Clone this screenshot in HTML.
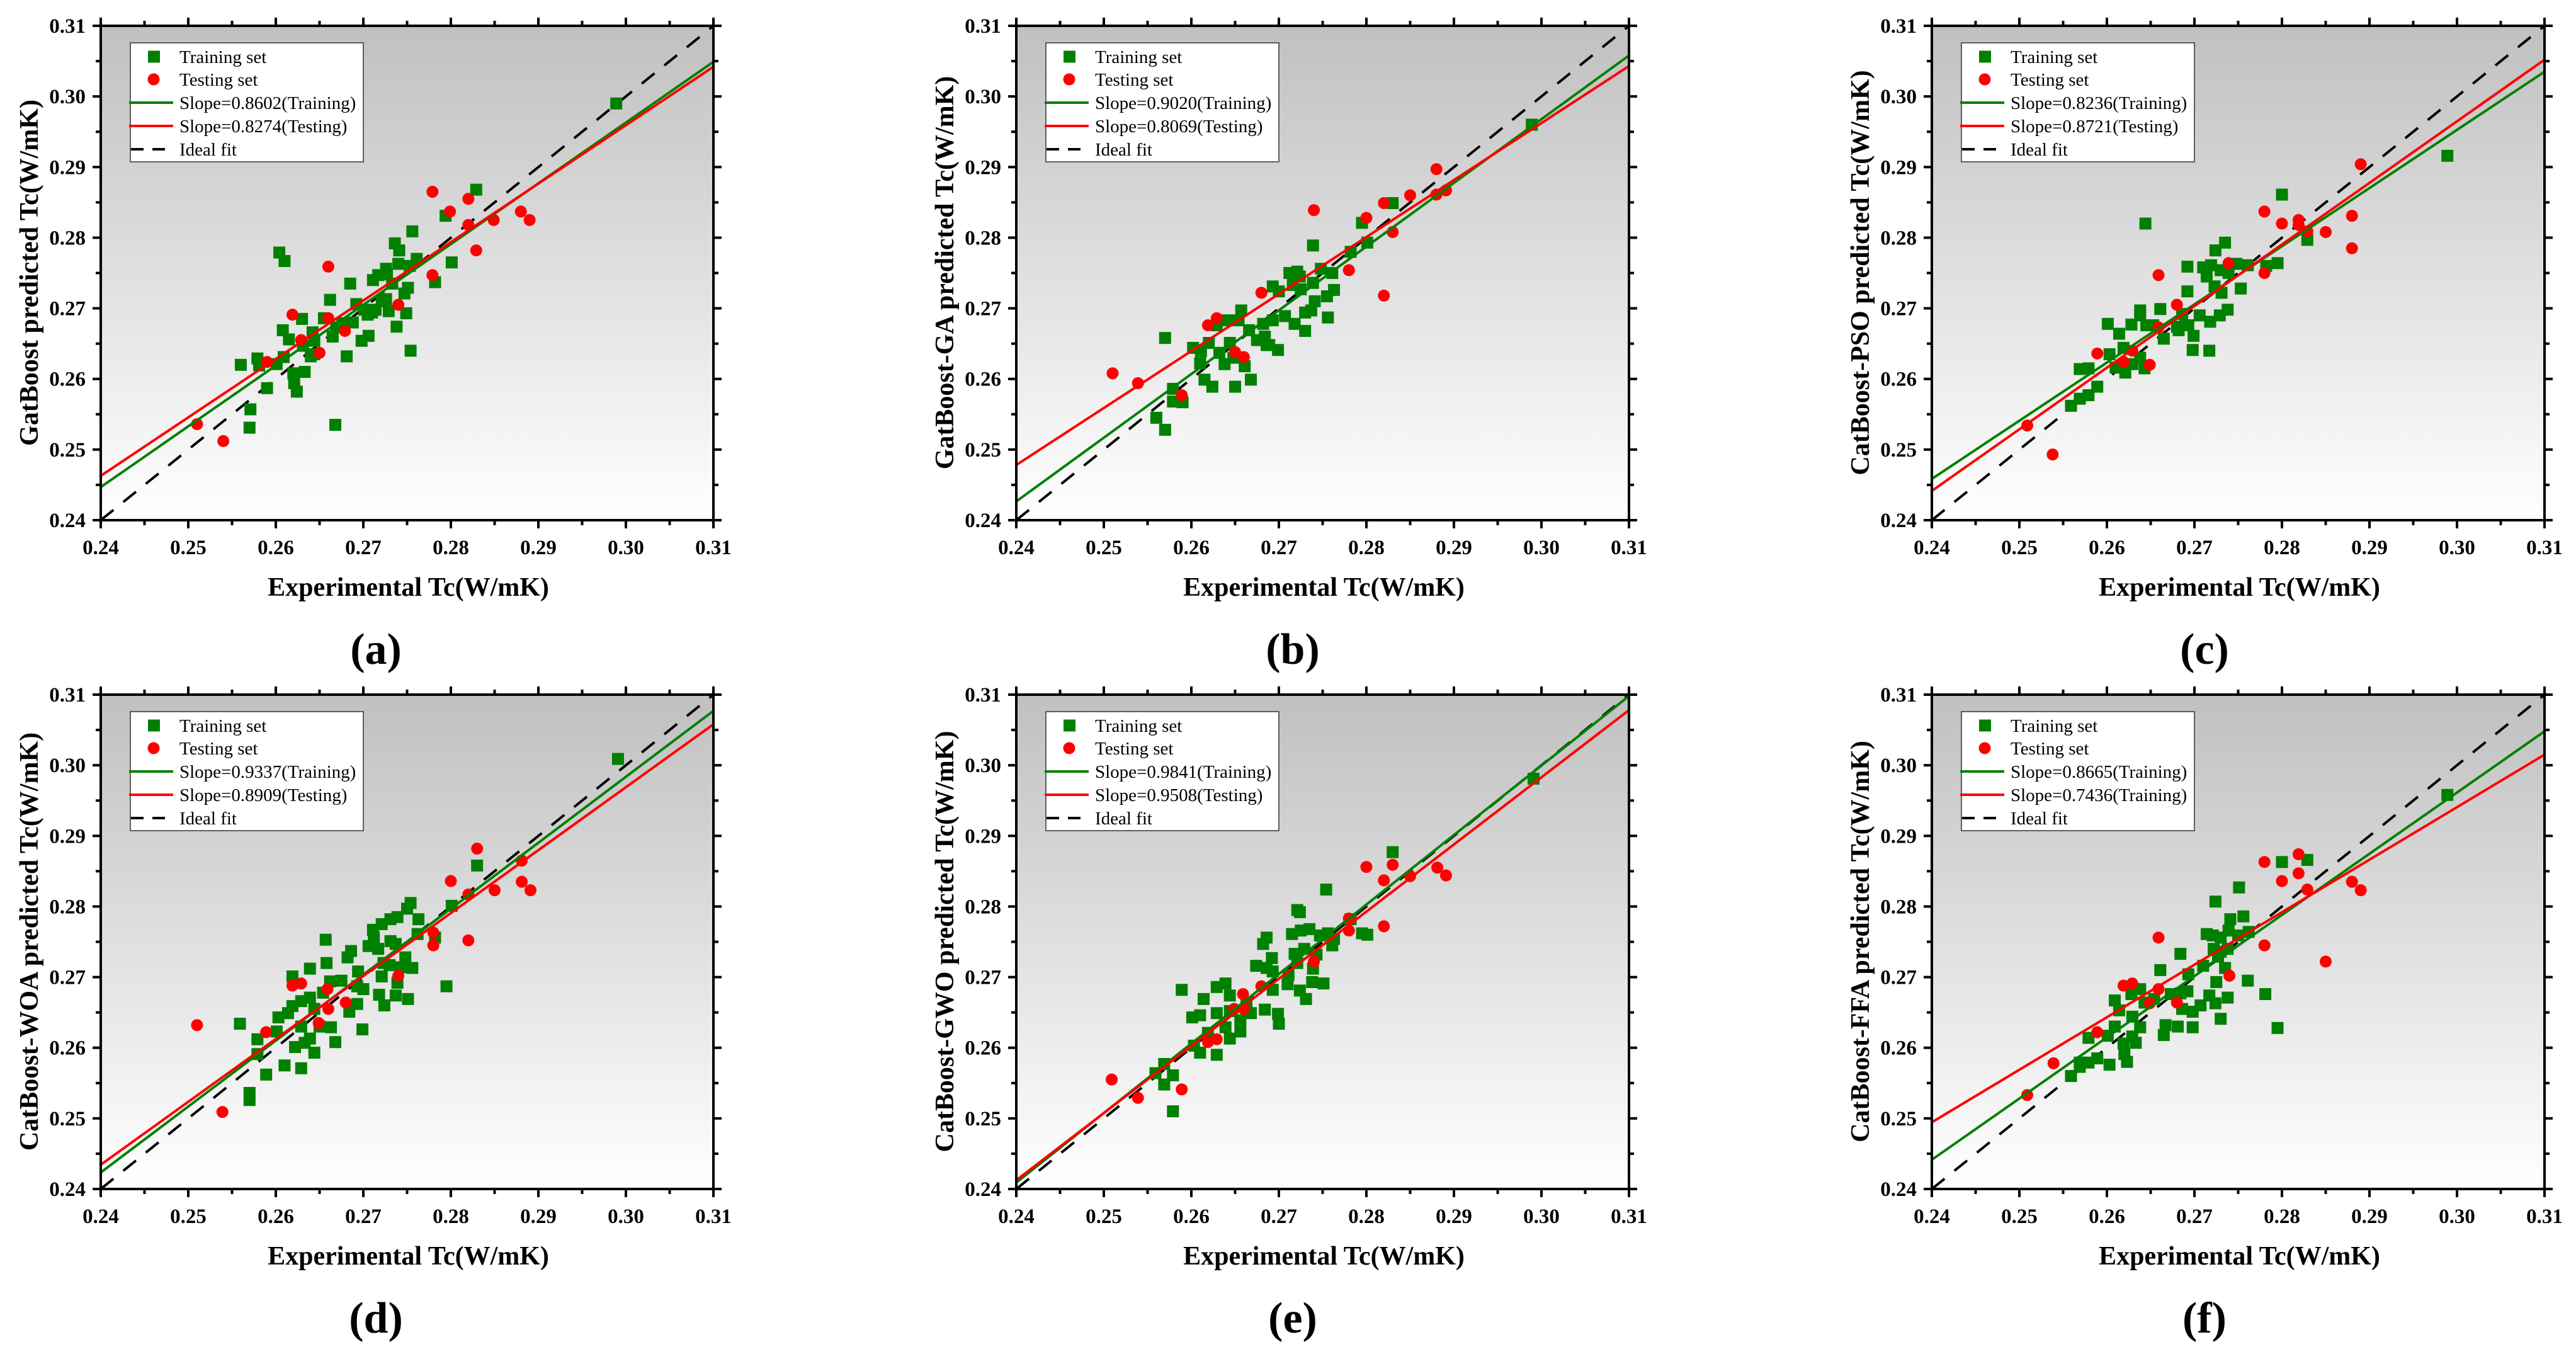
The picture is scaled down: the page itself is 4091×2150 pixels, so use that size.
<!DOCTYPE html>
<html><head><meta charset="utf-8"><title>CatBoost prediction scatter plots</title>
<style>html,body{margin:0;padding:0;background:#fff;}svg{display:block;font-family:"Liberation Serif",serif;}</style>
</head><body>
<svg id="fig" width="4091" height="2150" viewBox="0 0 4091 2150" xmlns="http://www.w3.org/2000/svg">
<defs><linearGradient id="bg" x1="0" y1="0" x2="0" y2="1"><stop offset="0" stop-color="#c0c0c0"/><stop offset="1" stop-color="#ffffff"/></linearGradient></defs>
</svg>
<script>
const xTicks = [0.24,0.25,0.26,0.27,0.28,0.29,0.30,0.31];
const yTicks = [0.24,0.25,0.26,0.27,0.28,0.29,0.30,0.31];
const tickLabels = ["0.24","0.25","0.26","0.27","0.28","0.29","0.30","0.31"];
const panelLetters = ["(a)","(b)","(c)","(d)","(e)","(f)"];
const yTitles = ["GatBoost predicted Tc(W/mK)","GatBoost-GA predicted Tc(W/mK)","CatBoost-PSO predicted Tc(W/mK)","CatBoost-WOA predicted Tc(W/mK)","CatBoost-GWO predicted Tc(W/mK)","CatBoost-FFA predicted Tc(W/mK)"];
const trainSlopes = [0.8602,0.9020,0.8236,0.9337,0.9841,0.8665];
const testSlopes = [0.8274,0.8069,0.8721,0.8909,0.9508,0.7436];
const trainFitAt031 = [0.3049,0.3058,0.3035,0.3077,0.3098,0.3048];
const testFitAt031 = [0.3042,0.3043,0.3052,0.3058,0.3078,0.3015];
const testLegendNames = ["Testing","Testing","Testing","Testing","Testing","Training"];

const trainX_a=[.2989,.2829,.2794,.2756,.2604,.2610,.2736,.2741,.2761,.2740,.2726,.2717,.2711,.2801,.2782,.2685,.2662,.2751,.2747,.2726,.2692,.2710,.2729,.2749,.2630,.2655,.2705,.2608,.2615,.2642,.2665,.2688,.2706,.2698,.2738,.2681,.2754,.2560,.2579,.2581,.2609,.2601,.2620,.2633,.2640,.2621,.2624,.2590,.2571,.2570,.2668,.2644,.2669,.2714,.2721,.2733,.2727,.2701,.2644,.2631,.2676,.2753];
const trainY_a=[.2990,.2868,.2831,.2809,.2779,.2767,.2792,.2782,.2770,.2763,.2756,.2747,.2740,.2765,.2737,.2735,.2712,.2729,.2721,.2713,.2706,.2694,.2696,.2693,.2685,.2686,.2691,.2669,.2656,.2666,.2660,.2680,.2661,.2654,.2674,.2632,.2640,.2620,.2629,.2619,.2631,.2621,.2608,.2610,.2632,.2594,.2582,.2587,.2557,.2531,.2535,.2654,.2673,.2698,.2710,.2735,.2748,.2698,.2635,.2647,.2679,.2760];
const testX_a=[.2510,.2540,.2590,.2619,.2629,.2650,.2660,.2660,.2679,.2740,.2779,.2779,.2799,.2820,.2820,.2829,.2849,.2880,.2890];
const testY_a=[.2536,.2512,.2624,.2691,.2655,.2637,.2759,.2686,.2668,.2705,.2865,.2747,.2837,.2855,.2818,.2782,.2825,.2837,.2825];

const trainX_b=[.2989,.2830,.2795,.2739,.2801,.2782,.2712,.2721,.2724,.2748,.2761,.2739,.2725,.2693,.2700,.2741,.2763,.2755,.2730,.2737,.2756,.2707,.2718,.2730,.2657,.2641,.2629,.2654,.2682,.2693,.2666,.2570,.2602,.2620,.2611,.2632,.2644,.2675,.2684,.2686,.2699,.2638,.2610,.2661,.2615,.2624,.2650,.2668,.2579,.2579,.2590,.2560,.2570,.2716,.2689,.2648];
const trainY_b=[.2960,.2849,.2821,.2789,.2793,.2780,.2750,.2752,.2745,.2756,.2750,.2736,.2727,.2731,.2724,.2710,.2726,.2717,.2694,.2697,.2687,.2689,.2678,.2668,.2697,.2683,.2676,.2683,.2678,.2683,.2669,.2658,.2644,.2651,.2639,.2637,.2651,.2655,.2660,.2648,.2641,.2621,.2622,.2618,.2599,.2589,.2589,.2599,.2586,.2568,.2567,.2545,.2528,.2733,.2648,.2630];
const testX_b=[.2510,.2539,.2589,.2619,.2629,.2650,.2660,.2680,.2740,.2780,.2800,.2820,.2820,.2830,.2850,.2880,.2880,.2891];
const testY_b=[.2608,.2594,.2577,.2676,.2686,.2638,.2631,.2722,.2839,.2754,.2828,.2849,.2718,.2808,.2860,.2897,.2861,.2867];

const trainX_c=[.2989,.2800,.2644,.2829,.2735,.2724,.2795,.2782,.2761,.2748,.2692,.2710,.2719,.2730,.2714,.2739,.2723,.2753,.2731,.2692,.2638,.2661,.2638,.2686,.2706,.2738,.2729,.2718,.2601,.2628,.2645,.2653,.2682,.2693,.2614,.2699,.2665,.2698,.2717,.2619,.2603,.2638,.2569,.2579,.2610,.2621,.2643,.2589,.2579,.2569,.2559,.2629,.2680];
const trainY_c=[.2916,.2861,.2820,.2797,.2793,.2782,.2764,.2760,.2761,.2763,.2759,.2758,.2761,.2754,.2745,.2750,.2731,.2728,.2722,.2724,.2697,.2699,.2690,.2692,.2690,.2698,.2690,.2681,.2678,.2677,.2676,.2676,.2669,.2676,.2664,.2661,.2657,.2641,.2640,.2644,.2635,.2630,.2614,.2615,.2616,.2609,.2615,.2589,.2577,.2572,.2562,.2621,.2674];
const testX_c=[.2509,.2538,.2589,.2619,.2629,.2649,.2659,.2659,.2680,.2739,.2780,.2780,.2800,.2819,.2819,.2829,.2850,.2880,.2880,.2890];
const testY_c=[.2534,.2493,.2636,.2624,.2640,.2620,.2673,.2747,.2705,.2764,.2837,.2750,.2820,.2825,.2818,.2809,.2808,.2831,.2785,.2904];

const trainX_d=[.2991,.2830,.2801,.2754,.2750,.2763,.2739,.2731,.2721,.2711,.2712,.2706,.2717,.2731,.2737,.2762,.2782,.2657,.2686,.2682,.2658,.2639,.2619,.2723,.2730,.2743,.2756,.2748,.2694,.2721,.2662,.2675,.2693,.2700,.2739,.2795,.2654,.2639,.2629,.2619,.2614,.2603,.2644,.2684,.2693,.2718,.2724,.2737,.2751,.2559,.2601,.2629,.2650,.2663,.2699,.2579,.2639,.2622,.2633,.2668,.2644,.2579,.2610,.2629,.2589,.2570,.2570];
const trainY_d=[.3009,.2858,.2801,.2805,.2797,.2782,.2785,.2782,.2775,.2767,.2756,.2744,.2740,.2751,.2747,.2761,.2756,.2753,.2737,.2728,.2720,.2712,.2701,.2720,.2717,.2714,.2713,.2728,.2708,.2701,.2694,.2695,.2687,.2683,.2692,.2687,.2678,.2671,.2666,.2659,.2649,.2643,.2655,.2651,.2662,.2675,.2660,.2674,.2669,.2634,.2623,.2630,.2630,.2629,.2626,.2612,.2613,.2601,.2607,.2608,.2593,.2591,.2575,.2571,.2562,.2536,.2526];
const testX_d=[.2510,.2539,.2589,.2619,.2629,.2649,.2659,.2660,.2680,.2740,.2780,.2780,.2800,.2820,.2820,.2830,.2850,.2881,.2881,.2891];
const testY_d=[.2632,.2509,.2622,.2688,.2691,.2635,.2683,.2655,.2664,.2702,.2763,.2745,.2836,.2817,.2752,.2882,.2823,.2865,.2835,.2823];

const trainX_e=[.2991,.2830,.2754,.2721,.2724,.2715,.2725,.2735,.2747,.2756,.2763,.2795,.2801,.2782,.2686,.2682,.2761,.2729,.2718,.2743,.2692,.2721,.2674,.2686,.2693,.2739,.2711,.2710,.2738,.2751,.2724,.2731,.2693,.2639,.2629,.2589,.2644,.2614,.2663,.2684,.2699,.2700,.2629,.2668,.2644,.2601,.2610,.2656,.2639,.2656,.2619,.2644,.2603,.2610,.2629,.2569,.2559,.2579,.2569,.2579];
const trainY_e=[.2981,.2877,.2824,.2795,.2792,.2761,.2766,.2768,.2759,.2762,.2754,.2762,.2760,.2782,.2756,.2747,.2745,.2740,.2733,.2732,.2727,.2720,.2716,.2713,.2708,.2712,.2703,.2690,.2693,.2691,.2681,.2669,.2682,.2691,.2686,.2682,.2674,.2669,.2660,.2654,.2648,.2634,.2649,.2649,.2652,.2643,.2646,.2639,.2629,.2623,.2621,.2613,.2603,.2593,.2590,.2577,.2564,.2561,.2548,.2510];
const testX_e=[.2509,.2539,.2589,.2619,.2629,.2649,.2659,.2660,.2680,.2740,.2780,.2780,.2800,.2820,.2820,.2830,.2850,.2881,.2891];
const testY_e=[.2555,.2529,.2541,.2608,.2612,.2655,.2676,.2655,.2687,.2722,.2783,.2766,.2856,.2837,.2772,.2859,.2843,.2855,.2844];

const trainX_f=[.2989,.2800,.2829,.2751,.2724,.2741,.2756,.2714,.2721,.2730,.2739,.2750,.2762,.2722,.2730,.2738,.2684,.2727,.2735,.2661,.2710,.2693,.2725,.2761,.2692,.2638,.2628,.2673,.2684,.2717,.2738,.2781,.2609,.2643,.2654,.2686,.2698,.2707,.2724,.2614,.2629,.2730,.2795,.2609,.2638,.2667,.2681,.2698,.2601,.2579,.2629,.2665,.2619,.2633,.2620,.2589,.2569,.2579,.2603,.2623,.2569,.2559];
const trainY_f=[.2958,.2863,.2866,.2827,.2807,.2782,.2786,.2761,.2759,.2756,.2766,.2759,.2764,.2740,.2736,.2740,.2733,.2729,.2713,.2710,.2716,.2704,.2693,.2695,.2680,.2683,.2676,.2676,.2677,.2674,.2671,.2676,.2667,.2664,.2669,.2655,.2651,.2660,.2663,.2653,.2644,.2641,.2628,.2630,.2629,.2632,.2630,.2629,.2617,.2614,.2616,.2618,.2606,.2607,.2591,.2585,.2579,.2579,.2576,.2580,.2573,.2560];
const testX_f=[.2509,.2539,.2589,.2619,.2629,.2649,.2659,.2659,.2680,.2740,.2780,.2780,.2800,.2819,.2819,.2829,.2850,.2880,.2890];
const testY_f=[.2533,.2578,.2622,.2688,.2691,.2663,.2683,.2756,.2664,.2702,.2863,.2745,.2836,.2874,.2847,.2824,.2722,.2835,.2823];

const trainXs=[trainX_a,trainX_b,trainX_c,trainX_d,trainX_e,trainX_f];
const trainYs=[trainY_a,trainY_b,trainY_c,trainY_d,trainY_e,trainY_f];
const testXs=[testX_a,testX_b,testX_c,testX_d,testX_e,testX_f];
const testYs=[testY_a,testY_b,testY_c,testY_d,testY_e,testY_f];

const NS="http://www.w3.org/2000/svg";
const svg=document.getElementById('fig');
function mk(tag,attrs,parent){const e=document.createElementNS(NS,tag);for(const k in attrs)e.setAttribute(k,attrs[k]);(parent||svg).appendChild(e);return e;}
const X0=[160,1614,3068], Y0=[41,1103], W=973, H=785, LO=0.24, HI=0.31;
const labelX=[597,2053,3501], labelY=[1030,2092];

for(let p=0;p<6;p++){
  const col=p%3,row=Math.floor(p/3);
  const px=X0[col],py=Y0[row];
  const sx=v=>px+(v-LO)/(HI-LO)*W;
  const sy=v=>py+H-(v-LO)/(HI-LO)*H;
  const g=mk('g',{});
  
  
  const bg=mk('rect',{x:px,y:py,width:W,height:H,fill:'url(#bg)'},g);
  
  
  const cp='clip'+p;
  const cl=mk('clipPath',{id:cp},g);mk('rect',{x:px,y:py,width:W,height:H},cl);
  const lines=mk('g',{'clip-path':'url(#'+cp+')'},g);
  const ideal=mk('line',{x1:sx(LO),y1:sy(LO),x2:sx(HI),y2:sy(HI),stroke:'#000','stroke-width':4,'stroke-dasharray':'26 20'},lines);
  
  
  const tX=trainXs[p],tY=trainYs[p];
  for(let i=0;i<tX.length;i++){
    const r=mk('rect',{x:sx(tX[i])-9.5,y:sy(tY[i])-9.5,width:19,height:19,fill:'#008000'},g);
    
    
  }
  const eX=testXs[p],eY=testYs[p];
  for(let i=0;i<eX.length;i++){
    const c=mk('ellipse',{cx:sx(eX[i]),cy:sy(eY[i]),rx:9.5,ry:9.5,fill:'#ff0000'},g);
    
    
  }
  const lines2=mk('g',{'clip-path':'url(#'+cp+')'},g);
  const gf=v=>trainFitAt031[p]+trainSlopes[p]*(v-HI);
  const rf=v=>testFitAt031[p]+testSlopes[p]*(v-HI);
  const gl=mk('line',{x1:sx(LO),y1:sy(gf(LO)),x2:sx(HI),y2:sy(gf(HI)),stroke:'#008000','stroke-width':4},lines2);
  
  
  const rl=mk('line',{x1:sx(LO),y1:sy(rf(LO)),x2:sx(HI),y2:sy(rf(HI)),stroke:'#ff0000','stroke-width':4},lines2);
  
  
  const fr=mk('rect',{x:px,y:py,width:W,height:H,fill:'none',stroke:'#000','stroke-width':4},g);
  
  
  for(let i=0;i<xTicks.length;i++){
    const x=sx(xTicks[i]),y=sy(yTicks[i]);
    mk('line',{x1:x,y1:py+H,x2:x,y2:py+H+13,stroke:'#000','stroke-width':4},g);
    mk('line',{x1:x,y1:py,x2:x,y2:py-13,stroke:'#000','stroke-width':4},g);
    mk('line',{x1:px,y1:y,x2:px-13,y2:y,stroke:'#000','stroke-width':4},g);
    mk('line',{x1:px+W,y1:y,x2:px+W+13,y2:y,stroke:'#000','stroke-width':4},g);
    if(i<xTicks.length-1){
      const xm=sx(xTicks[i]+0.005),ym=sy(yTicks[i]+0.005);
      mk('line',{x1:xm,y1:py+H,x2:xm,y2:py+H+8,stroke:'#000','stroke-width':4},g);
      mk('line',{x1:xm,y1:py,x2:xm,y2:py-8,stroke:'#000','stroke-width':4},g);
      mk('line',{x1:px,y1:ym,x2:px-8,y2:ym,stroke:'#000','stroke-width':4},g);
      mk('line',{x1:px+W,y1:ym,x2:px+W+8,y2:ym,stroke:'#000','stroke-width':4},g);
    }
    const xl=mk('text',{x:x,y:py+H+54,'text-anchor':'middle','font-size':33,'font-weight':'bold'},g);
    xl.textContent=tickLabels[i];
    
    
    const yl=mk('text',{x:px-24,y:y+11,'text-anchor':'end','font-size':33,'font-weight':'bold'},g);
    yl.textContent=tickLabels[i];
    
    
  }
  const xt=mk('text',{x:px+W/2+2,y:py+H+120,'text-anchor':'middle','font-size':42,'font-weight':'bold'},g);
  xt.textContent='Experimental Tc(W/mK)';
  
  
  const yt=mk('text',{x:0,y:0,'text-anchor':'middle','font-size':42,'font-weight':'bold',transform:'translate('+(px-100)+','+(py+392)+') rotate(-90)'},g);
  yt.textContent=yTitles[p];
  
  
  const pl=mk('text',{x:labelX[col],y:labelY[row]+24,'text-anchor':'middle','font-size':70,'font-weight':'bold'},g);
  pl.textContent=panelLetters[p];
  
  
  const lg=mk('g',{},g);
  
  
  mk('rect',{x:px+47,y:py+27,width:370,height:189,fill:'#fff',stroke:'#333','stroke-width':1.5},lg);
  const ry=[49,85,122,159,196].map(v=>py+v);
  mk('rect',{x:px+75,y:ry[0]-9.5,width:19,height:19,fill:'#008000'},lg);
  mk('ellipse',{cx:px+84,cy:ry[1],rx:9.5,ry:9.5,fill:'#ff0000'},lg);
  mk('line',{x1:px+45,y1:ry[2],x2:px+115,y2:ry[2],stroke:'#008000','stroke-width':4},lg);
  mk('line',{x1:px+45,y1:ry[3],x2:px+115,y2:ry[3],stroke:'#ff0000','stroke-width':4},lg);
  mk('line',{x1:px+48,y1:ry[4],x2:px+115,y2:ry[4],stroke:'#000','stroke-width':4,'stroke-dasharray':'20 14'},lg);
  const names=['Training set','Testing set','Slope='+trainSlopes[p].toFixed(4)+'(Training)','Slope='+testSlopes[p].toFixed(4)+'('+testLegendNames[p]+')','Ideal fit'];
  for(let k=0;k<5;k++){
    const t=mk('text',{x:px+125,y:ry[k]+10,'font-size':29},lg);
    t.textContent=names[k];
    
    
  }
}
</script>
</body></html>
